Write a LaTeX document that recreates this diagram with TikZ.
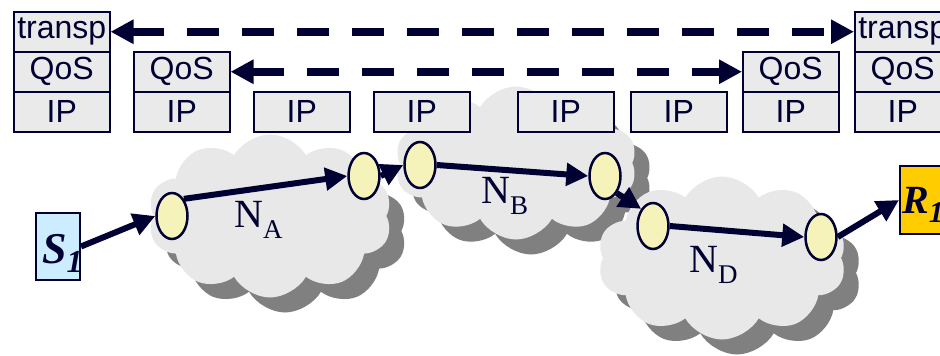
\documentclass[tikz,border=0pt]{standalone}
\usepackage{fontspec}
\setmainfont{Liberation Serif}
\newfontfamily\arialfont{Liberation Sans}
\usetikzlibrary{shapes.symbols,shapes.geometric,arrows.meta}
\definecolor{navy}{RGB}{0,0,51}
\definecolor{cloudfill}{RGB}{232,232,232}
\definecolor{shadowgray}{RGB}{128,128,128}
\definecolor{boxfill}{RGB}{234,234,234}
\definecolor{ifyellow}{RGB}{245,242,186}
\definecolor{sblue}{RGB}{204,236,255}
\definecolor{rgold}{RGB}{255,204,0}
\begin{document}
\begin{tikzpicture}[x=1pt,y=-1pt,
 layerbox/.style={draw=navy, line width=1.5pt, fill=boxfill, minimum width=96pt, minimum height=40pt, inner sep=0pt, font=\arialfont\fontsize{32}{32}\selectfont, text=navy, anchor=north west},
 cloudbase/.style={cloud, cloud puffs=10, cloud puff arc=120, inner sep=0pt},
 cloudlight/.style={cloudbase, fill=cloudfill},
 cloudshadow/.style={cloudbase, fill=shadowgray},
 iface/.style={ellipse, draw=navy, line width=2.5pt, fill=ifyellow, minimum width=31pt, minimum height=46pt, inner sep=0pt},
 arr/.style={draw=navy, line width=6pt, -{Triangle[length=22pt,width=22pt]}},
 darr/.style={draw=navy, line width=7.5pt, dash pattern=on 32pt off 23pt, {Triangle[length=23pt,width=23pt]}-{Triangle[length=23pt,width=23pt]}},
 endbox/.style={draw=navy, line width=2pt, minimum width=44pt, inner sep=0pt},
 lbl/.style={anchor=base west, text=navy, font=\fontsize{40}{40}\selectfont, inner sep=0pt},
]
\useasboundingbox (0,0) rectangle (940,356);
% clouds
\node[cloudshadow, minimum width=244pt, minimum height=163pt] (cAs) at (285,231) {};
\node[cloudlight, minimum width=244pt, minimum height=163pt] (cA) at (270,216) {};
\node[cloudshadow, minimum width=242pt, minimum height=153pt] (cBs) at (531,178) {};
\node[cloudlight, minimum width=242pt, minimum height=153pt] (cB) at (516,163) {};
\node[cloudshadow, minimum width=249pt, minimum height=163pt] (cDs) at (737,273) {};
\node[cloudlight, minimum width=249pt, minimum height=163pt] (cD) at (722,258) {};
% protocol stacks
\node[layerbox] (t1) at (13,11) {transp};
\node[layerbox] (q1) at (13,51) {QoS};
\node[layerbox] (i1) at (13,91) {IP};
\node[layerbox] (q2) at (133,51) {QoS};
\node[layerbox] (i2) at (133,91) {IP};
\node[layerbox] (i3) at (253,91) {IP};
\node[layerbox] (i4) at (373,91) {IP};
\node[layerbox] (i5) at (517,91) {IP};
\node[layerbox] (i6) at (630,91) {IP};
\node[layerbox] (q7) at (742,51) {QoS};
\node[layerbox] (i7) at (742,91) {IP};
\node[layerbox] (t8) at (854,11) {transp};
\node[layerbox] (q8) at (854,51) {QoS};
\node[layerbox] (i8) at (854,91) {IP};
\draw[darr] (t1.east) -- (t8.west);
\draw[darr] (q2.east) -- (q7.west);
% interfaces
\node[iface] (e1) at (172,216) {};
\node[iface] (e2) at (364,176) {};
\node[iface] (e3) at (420,165) {};
\node[iface] (e4) at (605,176) {};
\node[iface] (e5) at (653,226) {};
\node[iface] (e6) at (821,237) {};
% end hosts
\node[endbox, fill=sblue, minimum height=67pt] (s1) at (58,246.5) {};
\node[anchor=base west, inner sep=0pt, text=navy, font=\fontsize{44}{44}\selectfont\bfseries\itshape] (s1t) at (42,263) {S\raisebox{-9pt}{\fontsize{32}{32}\selectfont 1}};
\node[endbox, fill=rgold, minimum height=68pt] (r1) at (922,200) {};
\node[anchor=base west, inner sep=0pt, text=navy, font=\fontsize{40}{40}\selectfont\bfseries\itshape] (r1t) at (902,213) {R\raisebox{-9pt}{\fontsize{30}{30}\selectfont 1}};
% arrows
\draw[arr] (s1.east) -- (e1.west);
\draw[arr] (e1.north east) -- (e2.west);
\draw[arr] (e2.east) -- (e3.west);
\draw[arr] (e3.east) -- (e4.west);
\draw[arr] (e4.south east) -- (e5.north west);
\draw[arr] (e5.east) -- (e6.west);
\draw[arr] (e6.east) -- (r1.west);
% labels
\node[lbl] (la) at (234,227) {N\raisebox{-11pt}{\fontsize{27}{27}\selectfont A}};
\node[lbl] (lb) at (481,203) {N\raisebox{-11pt}{\fontsize{27}{27}\selectfont B}};
\node[lbl] (ld) at (689,272) {N\raisebox{-11pt}{\fontsize{27}{27}\selectfont D}};
\end{tikzpicture}
\end{document}
